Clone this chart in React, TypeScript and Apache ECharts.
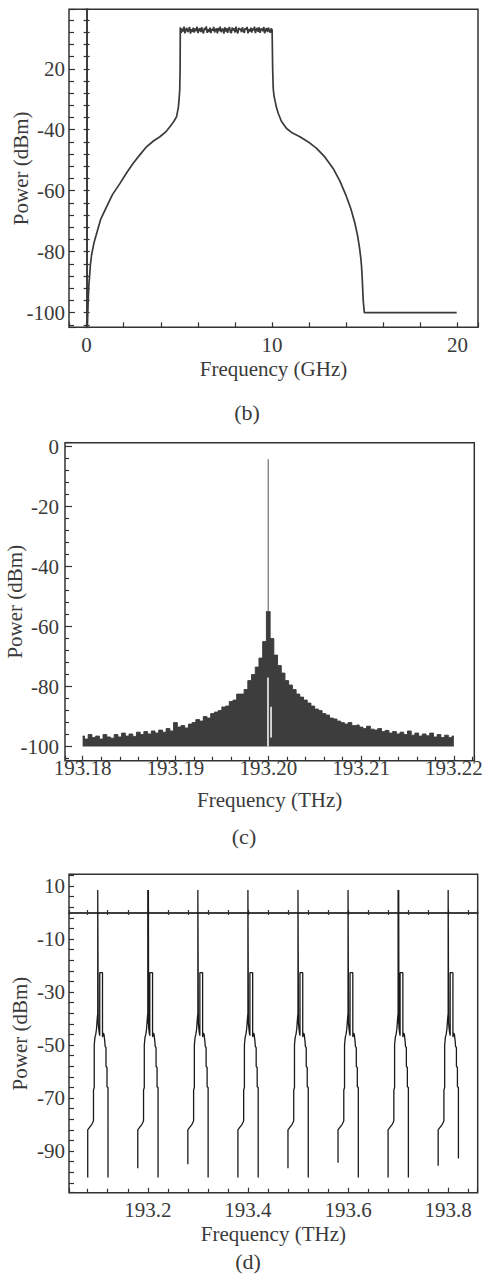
import React, { useEffect, useRef } from 'react';
import * as echarts from 'echarts';

// ---------- (b) spectrum, GHz ----------
const bRiseFreq = [0.04, 0.08, 0.12, 0.16, 0.2, 0.27, 0.4, 0.54, 0.75, 1.08, 1.4, 1.8, 2.15, 2.51, 2.9, 3.23, 3.6, 3.95, 4.25, 4.49, 4.7, 4.85, 4.95, 4.98, 5.02, 5.04];
const bRisePower = [-104.8, -97, -91, -88, -84.5, -81, -77, -74, -69.5, -65.2, -61.2, -57.6, -54.2, -51, -48, -45.6, -43.7, -42.3, -40.8, -39, -37.3, -35.7, -32.5, -30.3, -27, -20];
const bTopStart = 5.05;
const bTopStep = 0.05;
const bTopNoise = [
  -6.4, -8.2, -6.9, -7.8, -6.2, -8.4, -7.1, -6.6, -8.0, -7.4, -6.3, -8.5, -7.0, -7.9, -6.5, -8.1, -6.8, -7.6, -6.2, -8.3,
  -7.2, -6.7, -8.0, -6.4, -7.7, -8.4, -6.6, -7.3, -6.1, -8.2, -7.0, -7.9, -6.5, -8.3, -6.9, -7.5, -6.3, -8.1, -7.2, -6.8,
  -8.4, -6.6, -7.6, -6.2, -8.0, -7.1, -6.9, -8.5, -6.4, -7.8, -6.7, -8.2, -7.0, -6.3, -7.9, -8.3, -6.5, -7.4, -6.8, -8.1,
  -6.2, -7.7, -8.4, -6.6, -7.2, -6.9, -8.0, -6.4, -7.6, -8.2, -6.7, -7.1, -6.3, -8.4, -7.0, -7.8, -6.5, -8.1, -6.8, -7.4,
  -6.2, -8.3, -7.2, -6.6, -7.9, -6.4, -8.2, -7.0, -6.9, -7.7, -6.3, -8.4, -7.1, -6.7, -8.0, -6.5, -7.5, -8.2, -6.8, -7.3,
];
const bFallFreq = [10.03, 10.06, 10.1, 10.15, 10.24, 10.33, 10.5, 10.78, 11.1, 11.5, 11.95, 12.4, 12.85, 13.29, 13.65, 14.0, 14.25, 14.46, 14.6, 14.7, 14.78, 14.82, 14.86, 14.91, 14.97, 19.95];
const bFallPower = [-20, -26.4, -28.8, -30.3, -32.8, -34.6, -37.2, -39.6, -41.1, -42.3, -44, -46.1, -49, -52.7, -56.8, -61.8, -66, -70.6, -74.5, -78.2, -82, -84.7, -89, -95.8, -100, -100];

// ---------- (c) single line, THz ----------
const cStartFreq = 193.18;
const cStep = 0.0004;
const cEnvelope = [
  -96.5, -97.5, -96, -97, -96.5, -97.5, -96, -96.8, -97.2, -96,
  -96.8, -95.5, -96.5, -95.8, -96.6, -95.2, -96, -95, -95.8, -94.8,
  -95.5, -94.5, -95.2, -94, -94.8, -92, -93.5, -93, -93.8, -92.5,
  -92, -91, -91.5, -90, -90.5, -89, -88.5, -88, -86.8, -86.5,
  -85, -84.5, -82.5, -82.5, -81, -78, -76, -73.5, -70.5, -65,
  -55,
  -64, -69.5, -73, -75.5, -78, -79.5, -81, -82.5, -83.5, -84.5,
  -85.5, -86.5, -87.5, -88, -89, -89.5, -90.5, -90.8, -91.5, -92,
  -92.5, -92, -93, -92.8, -93.5, -94, -93.2, -94.2, -94.5, -94,
  -95, -94.6, -95.5, -95, -95.8, -95.2, -96, -94.8, -96.2, -95.5,
  -96.5, -95.8, -96.4, -95.5, -96.8, -96, -97, -96.2, -97, -96.5,
];
const cPeakFreq = [193.2, 193.2];
const cPeakPower = [-55, -4.2];
const cNotchFreq = [193.19997, 193.2003];
const cNotchTop = [-77, -86.7];
const cNotchBottom = [-100, -97];

// ---------- (d) comb, THz ----------
const dCenters = [193.1, 193.2, 193.3, 193.4, 193.5, 193.6, 193.7, 193.8];
const dShapeOffset = [-0.02, -0.02, -0.016, -0.012, -0.0095, -0.0085, -0.0085, -0.007, -0.007, -0.0055, -0.004, -0.0025, -0.001, 0, 0, 0.001, 0.003, 0.004, 0.004, 0.0095, 0.0095, 0.011, 0.0125, 0.014, 0.0148, 0.0165, 0.0165, 0.0185, 0.0185, 0.0205, 0.0205];
const dShapePower = [-100, -82, -81, -80, -79, -78.5, -67, -66, -50, -47, -46, -44, -40, -38, 8.5, -42, -45.5, -46.5, -22.7, -22.7, -47, -45.5, -46, -48.5, -50.5, -51, -58, -58.5, -65.7, -66, -100];
const dLeftStart = [-100, -96.5, -95, -100, -96.5, -94.4, -100, -95.5];
const dRightEnd = [-100, -100, -100, -100, -100, -100, -100, -92.8];
const dDoubleSpike = [false, true, false, false, false, false, true, false];
const dSpikeTop = 8.5;

const FONT = "'Liberation Serif', 'Times New Roman', serif";
const TXT = '#3a3a3a';
const LINE = '#333333';

function tick(inside: boolean, len: number) {
  return { show: true, inside, length: len, lineStyle: { color: LINE, width: 1.2 } };
}
function minor(len: number) {
  return { show: true, splitNumber: 5, length: len, lineStyle: { color: LINE, width: 1.2 } };
}
const labelText = { fontFamily: FONT, fontSize: 21, color: TXT, showMinLabel: false, showMaxLabel: false };
const nameText = { fontFamily: FONT, fontSize: 21, color: TXT };

function buildOption() {
  const bData: number[][] = [];
  bRiseFreq.forEach((f, i) => bData.push([f, bRisePower[i]]));
  bTopNoise.forEach((v, i) => bData.push([+(bTopStart + i * bTopStep).toFixed(3), v]));
  bFallFreq.forEach((f, i) => bData.push([f, bFallPower[i]]));

  const cData = cEnvelope.map((v, i) => [+(cStartFreq + i * cStep).toFixed(5), v]);
  const cPeak = cPeakFreq.map((f, i) => [f, cPeakPower[i]]);
  const cNotch: (number | null)[][] = [];
  cNotchFreq.forEach((f, i) => {
    if (i > 0) cNotch.push([f, null]);
    cNotch.push([f, cNotchTop[i]]);
    cNotch.push([f, cNotchBottom[i]]);
  });

  const dSeries = dCenters.map((c, g) => {
    const pts: number[][] = [];
    dShapeOffset.forEach((o, k) => {
      let v = dShapePower[k];
      if (k === 0) v = dLeftStart[g];
      if (k === dShapeOffset.length - 1) v = dRightEnd[g];
      pts.push([+(c + o).toFixed(5), v]);
      if (dDoubleSpike[g] && k === 15) {
        pts.push([+(c + 0.0012).toFixed(5), dSpikeTop]);
        pts.push([+(c + 0.0016).toFixed(5), -43]);
      }
    });
    return {
      type: 'line',
      xAxisIndex: 2,
      yAxisIndex: 4,
      data: pts,
      symbol: 'none',
      lineStyle: { color: '#1a1a1a', width: 1.3 },
      z: 3,
    };
  });

  const gridBase = { show: true, borderColor: LINE, borderWidth: 1.5, backgroundColor: 'transparent', containLabel: false, outerBoundsMode: 'none' };
  const nameBase = { nameLocation: 'middle', nameTextStyle: nameText, nameMoveOverlap: false };

  return {
    animation: false,
    backgroundColor: '#ffffff',
    grid: [
      { ...gridBase, left: 69, right: 6, top: 9.3, height: 318 },
      { ...gridBase, left: 65, right: 9.7, top: 442.7, height: 318 },
      { ...gridBase, left: 69, right: 6.3, top: 874.3, height: 318.4 },
    ],
    xAxis: [
      {
        gridIndex: 0, type: 'value', min: -0.95, max: 21.1, splitNumber: 2, position: 'bottom',
        axisLine: { show: false, onZero: false }, axisTick: tick(true, 5), minorTick: minor(5),
        splitLine: { show: false }, axisLabel: { ...labelText, margin: 7 },
        name: 'Frequency (GHz)', nameGap: 31, ...nameBase,
      },
      {
        gridIndex: 1, type: 'value', min: 193.1781, max: 193.2222, splitNumber: 4, position: 'bottom',
        axisLine: { show: false, onZero: false }, axisTick: tick(true, 5), minorTick: minor(4),
        splitLine: { show: false },
        axisLabel: { ...labelText, margin: -3, formatter: (v: number) => v.toFixed(2) },
        name: 'Frequency (THz)', nameGap: 29, ...nameBase,
      },
      {
        gridIndex: 2, type: 'value', min: 193.0426, max: 193.859, splitNumber: 4, position: 'bottom',
        axisLine: { show: false, onZero: false }, axisTick: tick(true, 5), minorTick: minor(4),
        splitLine: { show: false },
        axisLabel: { ...labelText, margin: 7, formatter: (v: number) => v.toFixed(1) },
        name: 'Frequency (THz)', nameGap: 31, ...nameBase,
      },
      {
        gridIndex: 2, type: 'value', min: 193.0426, max: 193.859, splitNumber: 4, position: 'bottom',
        axisLine: { show: true, onZero: true, onZeroAxisIndex: 4, lineStyle: { color: LINE, width: 1.5 } },
        axisTick: tick(true, 2.5), minorTick: minor(2.5), splitLine: { show: false }, axisLabel: { show: false },
      },
      {
        gridIndex: 2, type: 'value', min: 193.0426, max: 193.859, splitNumber: 4, position: 'bottom',
        axisLine: { show: true, onZero: true, onZeroAxisIndex: 4, lineStyle: { color: LINE, width: 1.5 } },
        axisTick: tick(false, 2.5), minorTick: minor(2.5), splitLine: { show: false }, axisLabel: { show: false },
      },
    ],
    yAxis: [
      {
        gridIndex: 0, type: 'value', min: -104.8, max: -0.5, splitNumber: 5, position: 'left',
        axisLine: { show: false, onZero: false }, axisTick: tick(true, 6), minorTick: minor(5),
        splitLine: { show: false },
        axisLabel: { ...labelText, margin: 4, formatter: (v: number) => (v === -20 ? '20' : String(v)) },
        name: 'Power (dBm)', nameGap: 38, ...nameBase,
      },
      {
        gridIndex: 0, type: 'value', min: -104.8, max: -0.5, splitNumber: 5, position: 'left',
        axisLine: { show: true, onZero: true, onZeroAxisIndex: 0, lineStyle: { color: LINE, width: 1.5 } },
        axisTick: tick(true, 3), minorTick: minor(3), splitLine: { show: false }, axisLabel: { show: false },
      },
      {
        gridIndex: 0, type: 'value', min: -104.8, max: -0.5, splitNumber: 5, position: 'left',
        axisLine: { show: true, onZero: true, onZeroAxisIndex: 0, lineStyle: { color: LINE, width: 1.5 } },
        axisTick: tick(false, 3), minorTick: minor(3), splitLine: { show: false }, axisLabel: { show: false },
      },
      {
        gridIndex: 1, type: 'value', min: -104.7, max: 1.3, splitNumber: 5, position: 'left',
        axisLine: { show: false, onZero: false }, axisTick: tick(true, 7), minorTick: minor(4),
        splitLine: { show: false }, axisLabel: { ...labelText, margin: 6 },
        name: 'Power (dBm)', nameGap: 39.5, ...nameBase,
      },
      {
        gridIndex: 2, type: 'value', min: -105.7, max: 14.4, position: 'left', show: false,
        axisLine: { onZero: false },
      },
      {
        gridIndex: 2, type: 'value', min: -95.7, max: 24.4, splitNumber: 5, position: 'left',
        axisLine: { show: false, onZero: false }, axisTick: tick(true, 5), minorTick: minor(5),
        splitLine: { show: false },
        axisLabel: { ...labelText, margin: 4, formatter: (v: number) => String(Math.round(v - 10)) },
        name: 'Power (dBm)', nameGap: 38.5, ...nameBase,
      },
    ],
    graphic: [
      { type: 'text', x: 247, y: 412, style: { text: '(b)', font: `22px ${FONT}`, fill: TXT, textAlign: 'center', textVerticalAlign: 'middle' } },
      { type: 'text', x: 244, y: 836, style: { text: '(c)', font: `22px ${FONT}`, fill: TXT, textAlign: 'center', textVerticalAlign: 'middle' } },
      { type: 'text', x: 248, y: 1261, style: { text: '(d)', font: `22px ${FONT}`, fill: TXT, textAlign: 'center', textVerticalAlign: 'middle' } },
    ],
    series: [
      {
        type: 'line', xAxisIndex: 0, yAxisIndex: 0, data: bData, symbol: 'none',
        lineStyle: { color: '#3a3a3a', width: 1.7 }, z: 3,
      },
      {
        type: 'line', xAxisIndex: 1, yAxisIndex: 3, data: cData, symbol: 'none', step: 'middle',
        lineStyle: { color: '#3d3d3d', width: 1 },
        areaStyle: { color: '#3d3d3d', opacity: 1, origin: -100 }, z: 2,
      },
      {
        type: 'line', xAxisIndex: 1, yAxisIndex: 3, data: cNotch, symbol: 'none', connectNulls: false,
        lineStyle: { color: '#ffffff', width: 1.5 }, z: 3,
      },
      {
        type: 'line', xAxisIndex: 1, yAxisIndex: 3, data: cPeak, symbol: 'none',
        lineStyle: { color: '#7a7a7a', width: 1.3 }, z: 4,
      },
      ...dSeries,
    ],
  };
}

export default function App() {
  const ref = useRef<HTMLDivElement>(null);
  useEffect(() => {
    if (!ref.current) return;
    const chart = echarts.init(ref.current, null, { renderer: 'svg' });
    chart.setOption(buildOption() as any);
    return () => chart.dispose();
  }, []);
  return (
    <div
      ref={ref}
      style={{ position: 'absolute', left: 0, top: 0, width: 484, height: 1286, background: '#ffffff' }}
    />
  );
}
